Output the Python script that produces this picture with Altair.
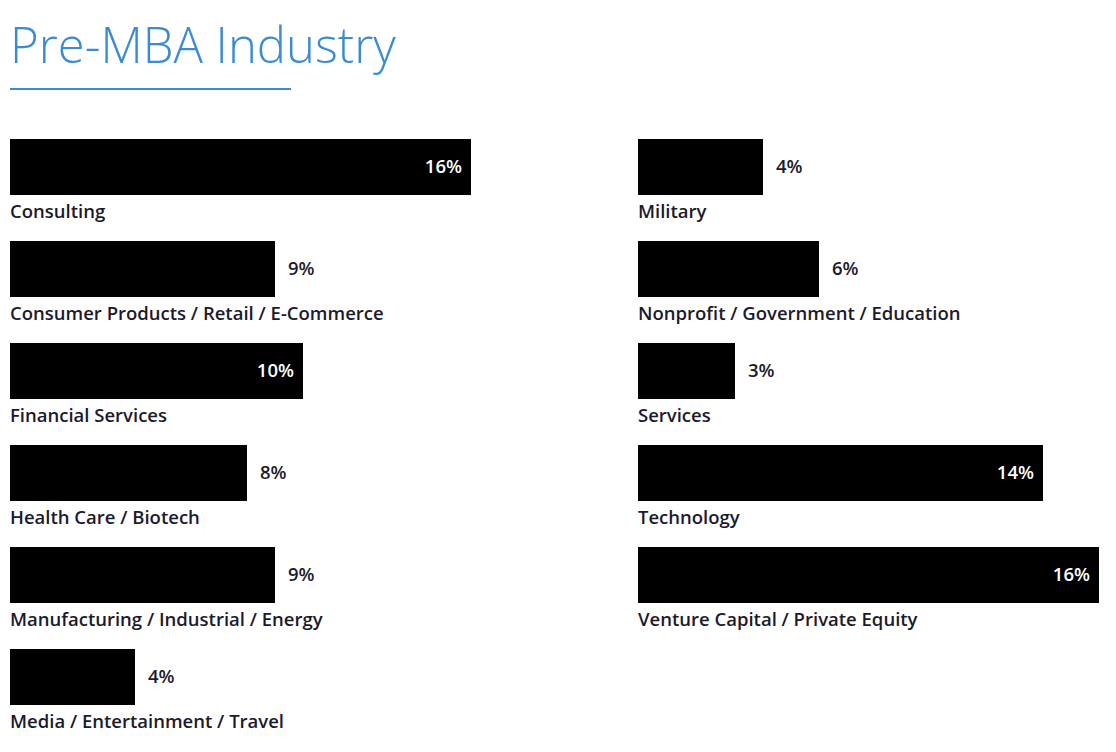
import altair as alt
import pandas as pd

title_text = "Pre-MBA Industry"
left_cats = ["Consulting", "Consumer Products / Retail / E-Commerce", "Financial Services",
             "Health Care / Biotech", "Manufacturing / Industrial / Energy", "Media / Entertainment / Travel"]
left_vals = [16, 9, 10, 8, 9, 4]
right_cats = ["Military", "Nonprofit / Government / Education", "Services",
              "Technology", "Venture Capital / Private Equity"]
right_vals = [4, 6, 3, 14, 16]

BLUE = "#3a8ad4"
INK = "#1c1a2b"
FONT = "Open Sans"
FS = 18.5
PX_PER_PCT = 28.0
BASE_PX = 13.0
LEFT_W, RIGHT_W, SPACING = 600, 470, 28
H = 612


def panel(cats, vals, width, with_title=False):
    df = pd.DataFrame({"row": list(range(len(cats))), "cat": cats, "value": vals})
    df["label"] = df["value"].astype(str) + "%"
    dmin = -BASE_PX / PX_PER_PCT
    dmax = width / PX_PER_PCT + dmin
    xs = alt.Scale(domain=[dmin, dmax], zero=False, nice=False)
    ys = alt.Scale(domain=list(range(6)), paddingInner=0.451, paddingOuter=0.2255, align=0)
    base = alt.Chart(df)
    y = alt.Y("row:O", scale=ys, axis=None)
    bars = base.mark_bar(color="#000000").encode(
        x=alt.X("value:Q", scale=xs, axis=None, stack=None), x2=alt.datum(dmin), y=y)
    cat_text = base.mark_text(align="left", baseline="middle", dy=45, fontSize=FS,
                              font=FONT, fontWeight=600, color=INK).encode(
        x=alt.value(0), y=y, text="cat:N")
    inside = base.transform_filter("datum.value >= 10").mark_text(
        align="right", baseline="middle", dx=-9, fontSize=FS, font=FONT,
        fontWeight=600, color="#ffffff").encode(
        x=alt.X("value:Q", scale=xs, axis=None), y=y, text="label:N")
    outside = base.transform_filter("datum.value < 10").mark_text(
        align="left", baseline="middle", dx=13, fontSize=FS, font=FONT,
        fontWeight=600, color=INK).encode(
        x=alt.X("value:Q", scale=xs, axis=None), y=y, text="label:N")
    layers = [bars, cat_text, inside, outside]
    if with_title:
        tdf = pd.DataFrame({"t": [title_text]})
        title = alt.Chart(tdf).mark_text(align="left", baseline="alphabetic", fontSize=49,
                                         font="Open Sans", fontWeight=300, color=BLUE).encode(
            x=alt.value(0), y=alt.value(-76), text="t:N")
        rule = alt.Chart(tdf).mark_rule(color=BLUE, strokeWidth=2).encode(
            x=alt.value(0), x2=alt.value(281), y=alt.value(-50))
        layers += [title, rule]
    return alt.layer(*layers).properties(width=width, height=H)


chart = alt.hconcat(
    panel(left_cats, left_vals, LEFT_W, with_title=True),
    panel(right_cats, right_vals, RIGHT_W),
    spacing=SPACING, bounds="flush",
).properties(
    padding={"left": 9, "top": 24, "right": 0, "bottom": 0},
    background="#ffffff",
).configure_view(stroke=None)

chart.save("out.html", embed_options={"renderer": "svg", "actions": False})
